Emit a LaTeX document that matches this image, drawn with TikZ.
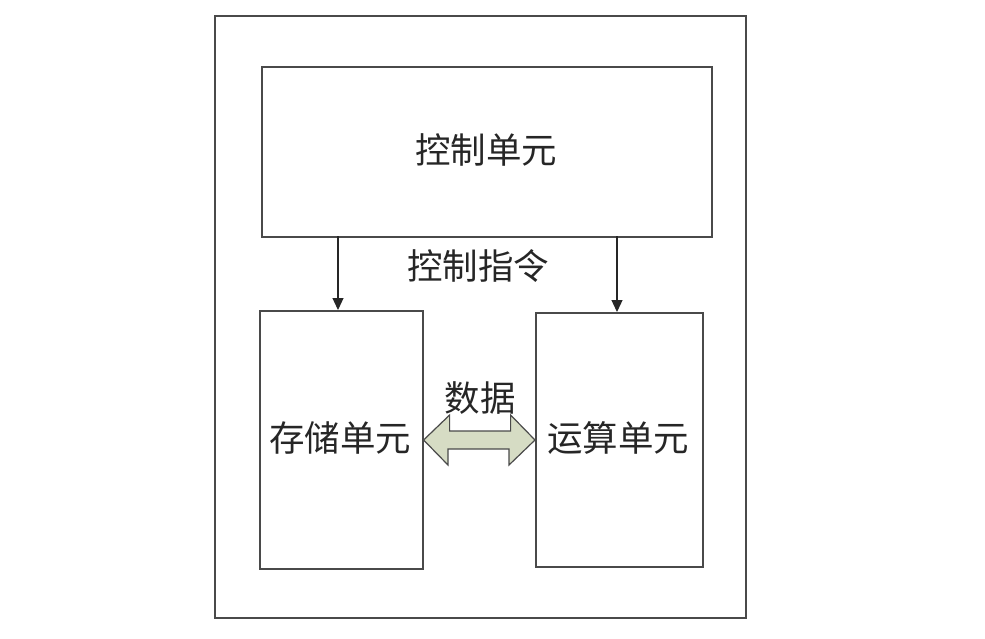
\documentclass[tikz,border=0pt]{standalone}
\usepackage{fontspec}
\newfontfamily\cjk{Noto Sans CJK SC}
\usetikzlibrary{arrows.meta,shapes.arrows}
\definecolor{linegray}{HTML}{4A4A4A}
\definecolor{arrowfill}{HTML}{D6DCC4}
\begin{document}
\begin{tikzpicture}[x=1pt,y=-1pt,
  box/.style={draw=linegray,line width=1.6pt,inner sep=0pt},
  lbl/.style={font=\cjk\fontsize{35.5}{38}\selectfont,text=black!85,inner sep=0pt},
  conn/.style={draw=black!85,line width=1.2pt,-{Triangle[length=12pt,width=11pt]}}]
\useasboundingbox (0,0) rectangle (985,638);
\node[box,minimum width=531pt,minimum height=602pt,anchor=north west] (frame) at (214,15) {};
\node[box,minimum width=450pt,minimum height=170pt,anchor=north west] (ctrl) at (261,66) {};
\node[lbl] (ctrltxt) at (486,150) {控制单元};
\node[box,minimum width=163pt,minimum height=258pt,anchor=north west] (store) at (259,310) {};
\node[lbl] (storetxt) at (340,438) {存储单元};
\node[box,minimum width=167pt,minimum height=254pt,anchor=north west] (alu) at (535,312) {};
\node[lbl] (alutxt) at (618,438) {运算单元};
\node[lbl] (cmd) at (478,266) {控制指令};
\node[lbl] (data) at (480,398) {数据};
\coordinate (c1) at (338,236);
\coordinate (c2) at (617,236);
\draw[conn] (c1) -- (c1 |- store.north);
\draw[conn] (c2) -- (c2 |- alu.north);
\draw[draw=linegray,fill=arrowfill,line width=1.2pt]
  (store.east |- 0,440) -- ++(26,-25) -- ++(0,16) -- ++(61,0) -- ++(0,-16)
  -- (alu.west |- 0,440) -- ++(-26,25) -- ++(0,-16) -- ++(-61,0) -- ++(0,16) -- cycle;
\end{tikzpicture}
\end{document}
